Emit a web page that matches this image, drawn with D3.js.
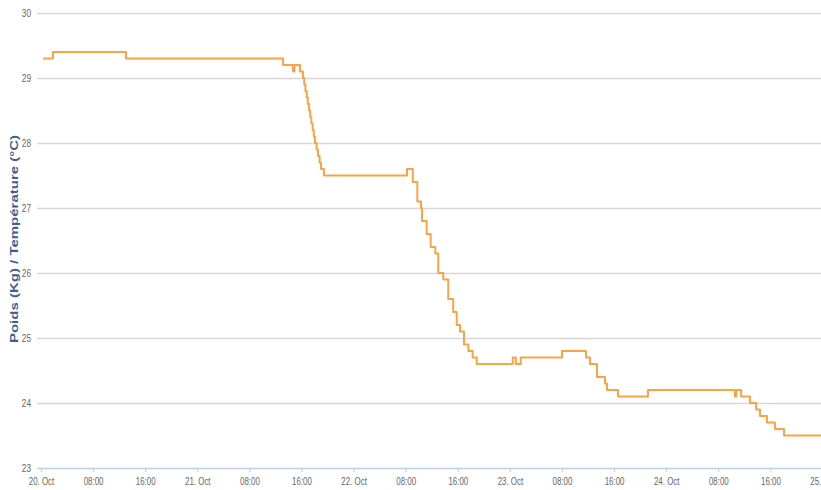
<!DOCTYPE html>
<html>
<head>
<meta charset="utf-8">
<script src="https://cdn.jsdelivr.net/npm/d3@7"></script>
<style>
  body { margin: 0; background: #fff; }
  svg { display: block; font-family: "Liberation Sans", Arial, sans-serif; }
</style>
</head>
<body>
<svg width="821" height="490"></svg>
<script>
// readings: time of each change and the value held from then on
const times = [
  '2016-10-20 00:18', '2016-10-20 01:50', '2016-10-20 13:03',
  '2016-10-21 13:10', '2016-10-21 14:42', '2016-10-21 14:55', '2016-10-21 15:46',
  '2016-10-21 16:14', '2016-10-21 16:25', '2016-10-21 16:36', '2016-10-21 16:48',
  '2016-10-21 16:58', '2016-10-21 17:10', '2016-10-21 17:20', '2016-10-21 17:31',
  '2016-10-21 17:43', '2016-10-21 17:53', '2016-10-21 18:04', '2016-10-21 18:19',
  '2016-10-21 18:32', '2016-10-21 18:47', '2016-10-21 19:00', '2016-10-21 19:27',
  '2016-10-22 08:12', '2016-10-22 09:05', '2016-10-22 09:47', '2016-10-22 10:21',
  '2016-10-22 10:30', '2016-10-22 11:13', '2016-10-22 11:50', '2016-10-22 12:33',
  '2016-10-22 13:00', '2016-10-22 13:46', '2016-10-22 14:32', '2016-10-22 15:18',
  '2016-10-22 15:50', '2016-10-22 16:20', '2016-10-22 16:57', '2016-10-22 17:37',
  '2016-10-22 18:17', '2016-10-22 18:54',
  '2016-10-23 00:26', '2016-10-23 00:54', '2016-10-23 01:40', '2016-10-23 08:00',
  '2016-10-23 11:41', '2016-10-23 12:18', '2016-10-23 13:22', '2016-10-23 14:36',
  '2016-10-23 14:55', '2016-10-23 16:36', '2016-10-23 21:12',
  '2016-10-24 10:34', '2016-10-24 10:46', '2016-10-24 11:30', '2016-10-24 12:52',
  '2016-10-24 13:48', '2016-10-24 14:24', '2016-10-24 15:28', '2016-10-24 16:42',
  '2016-10-24 18:05', '2016-10-25 00:30'
]
const values = [
  29.3, 29.4, 29.3,
  29.2, 29.1, 29.2, 29.1,
  29.0, 28.9, 28.8, 28.7,
  28.6, 28.5, 28.4, 28.3,
  28.2, 28.1, 28.0, 27.9,
  27.8, 27.7, 27.6, 27.5,
  27.6, 27.4, 27.1, 27.0,
  26.8, 26.6, 26.4, 26.3,
  26.0, 25.9, 25.6, 25.4,
  25.2, 25.1, 24.9, 24.8,
  24.7, 24.6,
  24.7, 24.6, 24.7, 24.8,
  24.7, 24.6, 24.4, 24.3,
  24.2, 24.1, 24.2,
  24.1, 24.2, 24.1, 24.0,
  23.9, 23.8, 23.7, 23.6,
  23.5, 23.5
]
const yTicks = [23, 24, 25, 26, 27, 28, 29, 30]
const yTitle = 'Poids (Kg) / Température (°C)'

const parse = d3.timeParse('%Y-%m-%d %H:%M')
const data = times.map((t, i) => ({ t: parse(t), v: values[i] }))

const svg = d3.select('svg')
const left = 37
const right = 821

const x = d3.scaleTime()
    .domain([parse('2016-10-20 00:00'), parse('2016-10-25 00:00')])
    .range([41, 822.5])
const y = d3.scaleLinear()
    .domain([23, 30])
    .range([468, 13])

// grid
svg.append('g')
  .selectAll('line')
  .data(yTicks.slice(1))
  .join('line')
    .attr('x1', left)
    .attr('x2', right)
    .attr('y1', d => Math.round(y(d)) + 0.5)
    .attr('y2', d => Math.round(y(d)) + 0.5)
    .attr('stroke', '#d8d8d8')
    .attr('stroke-width', 1.5)

// y labels
svg.append('g')
  .selectAll('text')
  .data(yTicks)
  .join('text')
    .attr('transform', d => `translate(31, ${y(d) + 4}) scale(0.75, 1)`)
    .attr('text-anchor', 'end')
    .attr('font-size', 11)
    .attr('fill', '#666')
    .text(d => d)

// y title
svg.append('text')
    .attr('transform', `translate(18, 239) rotate(-90) scale(1, 0.7)`)
    .attr('text-anchor', 'middle')
    .attr('font-size', 15)
    .attr('font-weight', 'bold')
    .attr('fill', '#3d5f91')
    .text(yTitle)

// x axis
const xTickValues = d3.timeHour.every(8).range(parse('2016-10-20 00:00'), parse('2016-10-25 01:00'))
const fmtDay = d3.timeFormat('%d. %b')
const fmtHour = d3.timeFormat('%H:%M')
const gx = svg.append('g')
    .attr('transform', `translate(0, ${y(23)})`)
    .call(d3.axisBottom(x)
      .tickValues(xTickValues)
      .tickSize(4)
      .tickFormat(d => d.getHours() === 0 ? fmtDay(d) : fmtHour(d)))
gx.select('.domain').remove()
gx.insert('line', ':first-child')
    .attr('x1', left)
    .attr('x2', right)
    .attr('y1', 0.5)
    .attr('y2', 0.5)
    .attr('stroke', '#c0d0e0')
    .attr('stroke-width', 1.5)
gx.selectAll('.tick line').attr('stroke', '#c0d0e0')
gx.selectAll('.tick text')
    .attr('font-size', 11)
    .attr('fill', '#666')
    .attr('y', 9)
    .attr('transform', 'scale(0.72, 1)')

// line
svg.append('path')
    .datum(data)
    .attr('fill', 'none')
    .attr('stroke', '#f9a444')
    .attr('stroke-width', 2)
    .attr('stroke-linejoin', 'round')
    .attr('d', d3.line()
      .curve(d3.curveStepAfter)
      .x(d => x(d.t))
      .y(d => y(d.v)))
</script>
</body>
</html>
